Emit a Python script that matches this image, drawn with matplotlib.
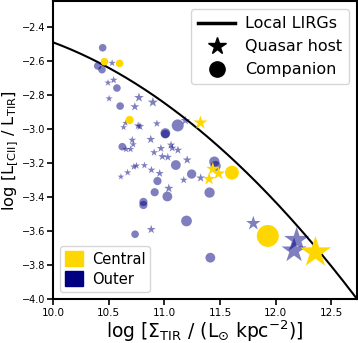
import numpy as np
import matplotlib
matplotlib.use("Agg")
import matplotlib.pyplot as plt
from matplotlib.lines import Line2D
from matplotlib.patches import Patch

# Local LIRGs relation (quadratic in log Sigma_TIR - 10)
lirg_coeffs = [-2.49, -0.2435, -0.1134]

# Central (gold)
cen_circ_x = [10.462, 10.598, 10.688, 11.607, 11.929]
cen_circ_y = [-2.604, -2.614, -2.947, -3.257, -3.629]
cen_circ_s = [30, 30, 35, 100, 250]

cen_star_x = [11.324, 11.435, 11.487, 11.402, 12.357]
cen_star_y = [-2.963, -3.235, -3.262, -3.294, -3.726]
cen_star_s = [110, 100, 100, 90, 560]

# Outer (navy, translucent)
out_circ_x = [10.446, 10.402, 10.440, 10.574, 10.603, 11.120, 11.009, 11.009, 10.622,
              11.103, 10.938, 10.913, 11.027, 10.812, 10.812, 10.737, 11.199, 11.406,
              11.413, 11.449, 11.460, 11.245]
out_circ_y = [-2.522, -2.629, -2.651, -2.759, -2.865, -2.979, -3.024, -3.030, -3.104,
              -3.212, -3.306, -3.372, -3.397, -3.429, -3.447, -3.619, -3.541, -3.374,
              -3.757, -3.192, -3.218, -3.265]
out_circ_s = [30, 30, 30, 30, 30, 75, 50, 40, 30,
              50, 35, 35, 50, 35, 35, 30, 60, 55,
              50, 55, 55, 45]

out_star_x = [10.531, 10.494, 10.545, 10.504, 10.772, 10.735, 10.897, 10.652, 10.634,
              10.765, 10.781, 10.933, 10.712, 10.720, 10.656, 10.696, 10.878, 10.908,
              10.969, 11.060, 11.071, 10.982, 11.031, 11.122, 11.205, 10.750, 10.726,
              10.821, 10.670, 10.610, 10.884, 10.958, 11.040, 10.882, 11.188, 11.174,
              11.326, 11.799, 12.188, 12.165]
out_star_y = [-2.612, -2.728, -2.712, -2.821, -2.815, -2.869, -2.843, -2.965, -2.990,
              -2.981, -2.985, -2.968, -3.065, -3.091, -3.119, -3.119, -3.061, -3.138,
              -3.114, -3.094, -3.112, -3.162, -3.166, -3.124, -3.182, -3.216, -3.222,
              -3.214, -3.256, -3.281, -3.241, -3.261, -3.349, -3.591, -2.950, -3.300,
              -3.288, -3.555, -3.653, -3.715]
out_star_s = [30, 30, 35, 30, 55, 45, 60, 25, 25,
              40, 40, 35, 35, 30, 30, 30, 45, 35,
              40, 40, 40, 40, 40, 40, 45, 30, 30,
              30, 30, 25, 35, 40, 50, 45, 50, 35,
              45, 120, 360, 360]

gold = '#FFD700'
navy = '#000080'

fig = plt.figure(figsize=(3.58, 3.43), dpi=100)
ax = fig.add_axes([53/358, 1 - 299/343, 304/358, 298/343])

xx = np.linspace(10.0, 12.73, 200)
t = xx - 10.0
yy = lirg_coeffs[0] + lirg_coeffs[1]*t + lirg_coeffs[2]*t**2
ax.plot(xx, yy, color='black', lw=1.5, zorder=1)

ax.scatter(out_circ_x, out_circ_y, s=out_circ_s, marker='o', color=navy, alpha=0.5,
           edgecolors='none', zorder=2)
ax.scatter(out_star_x, out_star_y, s=out_star_s, marker='*', color=navy, alpha=0.5,
           edgecolors='none', zorder=2)
ax.scatter(cen_circ_x, cen_circ_y, s=cen_circ_s, marker='o', color=gold,
           edgecolors='none', zorder=3)
ax.scatter(cen_star_x, cen_star_y, s=cen_star_s, marker='*', color=gold,
           edgecolors='none', zorder=3)

ax.set_xlim(10.0, 12.73)
ax.set_ylim(-4.0, -2.247)
ax.set_xticks([10.0, 10.5, 11.0, 11.5, 12.0, 12.5])
ax.set_yticks([-4.0, -3.8, -3.6, -3.4, -3.2, -3.0, -2.8, -2.6, -2.4])
ax.tick_params(axis='x', labelsize=7.5, width=1.2, length=4.5, pad=2)
ax.tick_params(axis='y', labelsize=7, width=1.2, length=4, pad=1.2)
for sp in ax.spines.values():
    sp.set_linewidth(1.5)

ax.set_xlabel(r'log [$\Sigma_{\rm TIR}$ / (L$_{\odot}$ kpc$^{-2}$)]', fontsize=13.5, labelpad=0)
ax.set_ylabel(r'log [L$_{\rm [CII]}$ / L$_{\rm TIR}$]', fontsize=13, labelpad=0)

h1 = [Line2D([0], [0], color='black', lw=2.5),
      Line2D([0], [0], marker='*', color='black', ls='none', markersize=13),
      Line2D([0], [0], marker='o', color='black', ls='none', markersize=11)]
leg1 = ax.legend(h1, ['Local LIRGs', 'Quasar host', 'Companion'], loc='upper right',
                 fontsize=11.5, handlelength=2.3, labelspacing=0.5, borderpad=0.45,
                 handletextpad=0.6)
ax.add_artist(leg1)

h2 = [Patch(color=gold), Patch(color=navy)]
ax.legend(h2, ['Central', 'Outer'], loc='lower left', fontsize=10.5,
          handlelength=1.2, handleheight=1.2, labelspacing=0.3, borderpad=0.35,
          handletextpad=0.6, borderaxespad=0.5)

# fit the y label between the figure edge and the tick labels
fig.canvas.draw()
renderer = fig.canvas.get_renderer()
ax_px = ax.get_window_extent(renderer)
tick_x0 = min(tl.get_window_extent(renderer).x0 for tl in ax.get_yticklabels()
              if tl.get_text())
ylab = ax.yaxis.label
for fs in np.arange(13.0, 9.4, -0.25):
    ylab.set_fontsize(fs)
    fig.canvas.draw()
    bb = ylab.get_window_extent(renderer)
    if bb.width + 0.8 <= tick_x0 - 0.8:
        break
bb = ylab.get_window_extent(renderer)
shift = 0.8 - bb.x0
ax.yaxis.set_label_coords((bb.x1 + shift - ax_px.x0) / ax_px.width, 0.5)

fig.savefig('out.png', dpi=100)
